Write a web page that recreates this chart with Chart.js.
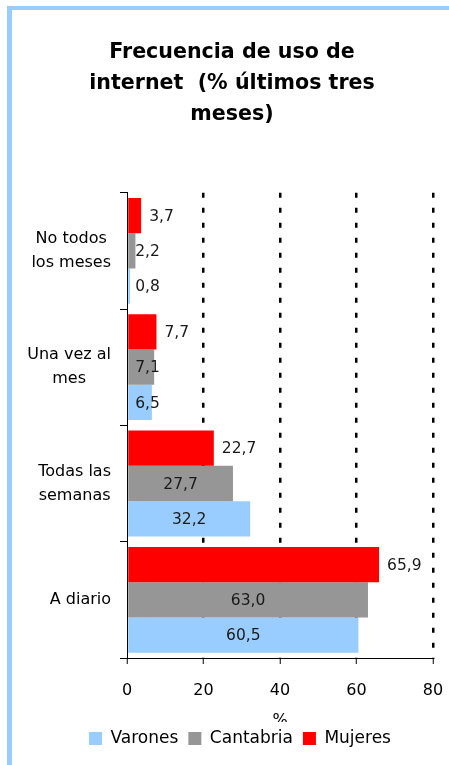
<!DOCTYPE html>
<html>
<head>
<meta charset="utf-8">
<script src="https://cdn.jsdelivr.net/npm/chart.js@4.4.0/dist/chart.umd.min.js"></script>
<style>
  html, body { margin: 0; padding: 0; background: #fff; }
  #wrap { position: relative; width: 449px; height: 765px; overflow: hidden; }
  #frame { position: absolute; left: 7px; top: 6px; right: -10px; bottom: -10px;
           border-left: 5px solid #99CCFF; border-top: 4px solid #99CCFF; }
  canvas { position: absolute; left: 0; top: 0; }
</style>
</head>
<body>
<div id="wrap">
  <div id="frame"></div>
  <canvas id="c" width="449" height="765"></canvas>
</div>
<script>
// ---- data ----
const categories = [["No todos", "los meses"], ["Una vez al", "mes"], ["Todas las", "semanas"], ["A diario"]];
const mujeres   = [3.7, 7.7, 22.7, 65.9];
const cantabria = [2.2, 7.1, 27.7, 63.0];
const varones   = [0.8, 6.5, 32.2, 60.5];
const xTickValues = [0, 20, 40, 60, 80];
const titleLines = ["Frecuencia de uso de", "internet  (% últimos tres", "meses)"];
const axisTitle = "%";

const FONT = "'DejaVu Sans', sans-serif";
const fmt = v => v.toFixed(1).replace('.', ',');

// Category labels (block right-aligned, lines centred within the block)
const catLabelsPlugin = {
  id: 'catLabels',
  afterDraw(chart) {
    const ys = chart.scales.y;
    const ctx = chart.ctx;
    ctx.save();
    ctx.font = "16px " + FONT;
    ctx.fillStyle = '#000';
    ctx.textBaseline = 'middle';
    ctx.textAlign = 'center';
    const right = chart.chartArea.left - 16;
    const lh = 24;
    categories.forEach((lines, i) => {
      const yc = ys.getPixelForTick(i);
      const w = Math.max(...lines.map(l => ctx.measureText(l).width));
      const cx = right - w / 2;
      const y0 = yc - (lines.length - 1) * lh / 2;
      lines.forEach((l, k) => ctx.fillText(l, cx, y0 + k * lh));
    });
    ctx.restore();
  }
};

// Value labels
const valueLabelsPlugin = {
  id: 'valueLabels',
  afterDatasetsDraw(chart) {
    const ctx = chart.ctx;
    ctx.save();
    ctx.font = "15.5px " + FONT;
    ctx.fillStyle = '#1a1a1a';
    ctx.textBaseline = 'middle';
    ctx.textAlign = 'left';
    chart.data.datasets.forEach((ds, di) => {
      const meta = chart.getDatasetMeta(di);
      meta.data.forEach((bar, i) => {
        const t = fmt(ds.data[i]);
        const w = ctx.measureText(t).width;
        let x;
        if (ds.labelOutside) {
          x = bar.x + 8;
        } else {
          const c = (bar.base + bar.x) / 2;
          x = Math.max(c - w / 2, bar.base + 7);
        }
        ctx.fillText(t, x, bar.y + 1);
      });
    });
    ctx.restore();
  }
};

// Axis title, partially hidden behind the legend as in the reference
const axisTitlePlugin = {
  id: 'axisTitle',
  afterDraw(chart) {
    const ctx = chart.ctx;
    const ca = chart.chartArea;
    ctx.save();
    ctx.beginPath();
    ctx.rect(0, 0, chart.width, 722);
    ctx.clip();
    ctx.font = "16px " + FONT;
    ctx.fillStyle = '#000';
    ctx.textAlign = 'center';
    ctx.textBaseline = 'middle';
    ctx.fillText(axisTitle, (ca.left + ca.right) / 2, 721);
    ctx.restore();
  }
};

// Legend sits slightly right of the title centre in the reference
const legendShiftPlugin = {
  id: 'legendShift',
  afterLayout(chart) {
    const lg = chart.legend;
    if (lg) { lg.left += 8; lg.right += 8; }
  }
};

new Chart(document.getElementById('c'), {
  type: 'bar',
  data: {
    labels: categories,
    datasets: [
      { label: 'Mujeres', data: mujeres, backgroundColor: '#FF0000', borderWidth: 0, labelOutside: true },
      { label: 'Cantabria', data: cantabria, backgroundColor: '#969696', borderWidth: 0 },
      { label: 'Varones', data: varones, backgroundColor: '#99CCFF', borderWidth: 0 }
    ]
  },
  options: {
    indexAxis: 'y',
    responsive: false,
    animation: false,
    events: [],
    categoryPercentage: 0.91,
    barPercentage: 1.0,
    layout: { padding: { left: 31, right: 16, top: 0, bottom: 8 } },
    scales: {
      x: {
        min: 0, max: 80,
        afterBuildTicks(scale) { scale.ticks = xTickValues.map(v => ({ value: v })); },
        afterFit(scale) { scale.height = 62; scale.paddingLeft = 0; scale.paddingRight = 0; },
        ticks: { color: '#000', font: { family: FONT, size: 16 }, padding: 17 },
        grid: {
          color: c => (c.tick && c.tick.value === 0) ? 'rgba(0,0,0,0)' : '#000',
          lineWidth: 2.5,
          tickColor: '#000',
          tickWidth: 1,
          tickLength: 6
        },
        border: { display: true, color: '#000', width: 1, dash: [5, 10] }
      },
      y: {
        afterFit(scale) { scale.width = 96; },
        ticks: { display: false },
        grid: {
          offset: true,
          drawOnChartArea: false,
          tickColor: '#000',
          tickLength: 7,
          tickWidth: 1
        },
        border: { display: true, color: '#000', width: 1 }
      }
    },
    plugins: {
      title: {
        display: true,
        text: titleLines,
        color: '#000',
        font: { family: FONT, size: 20.6, weight: 'bold', lineHeight: 1.5 },
        padding: { top: 37, bottom: 63 }
      },
      legend: {
        position: 'bottom',
        reverse: true,
        labels: {
          color: '#000',
          font: { family: FONT, size: 17 },
          boxWidth: 13,
          boxHeight: 13,
          padding: 10
        }
      },
      tooltip: { enabled: false }
    }
  },
  plugins: [catLabelsPlugin, valueLabelsPlugin, axisTitlePlugin, legendShiftPlugin]
});
</script>
</body>
</html>
